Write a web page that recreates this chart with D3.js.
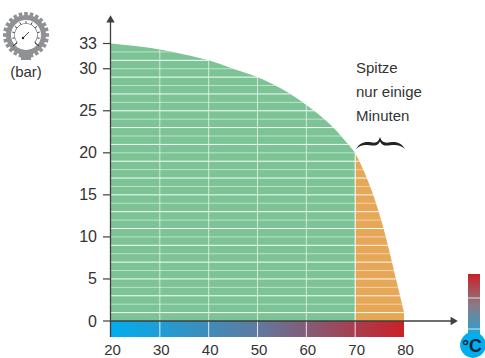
<!DOCTYPE html>
<html><head><meta charset="utf-8">
<script src="https://cdn.jsdelivr.net/npm/d3@7"></script>
<style>html,body{margin:0;padding:0;background:#fff}svg{display:block}text{font-family:"Liberation Sans",Arial,sans-serif;fill:#333}</style>
</head><body><div id="c"></div>
<script>
const tempTicks=[20,30,40,50,60,70,80];
const pressureTicks=[0,5,10,15,20,25,30,33];
const continuousTemp=[20,25,30,35,40,45,50,55,60,65,70];
const continuousPressure=[33,32.7,32.3,31.7,31,30,29,27.6,25.7,23.3,20];
const peakTemp=[70,71.5,73.5,75.5,78.4,80];
const peakPressure=[20,18.2,15.3,11.65,4.9,1];
const noteLines=["Spitze","nur einige","Minuten"];
const unitPressure="(bar)";
const unitTemp="°C";

const W=485,H=358;
const svg=d3.select("#c").append("svg").attr("width",W).attr("height",H);
const x=d3.scaleLinear().domain([20,80]).range([111,404]);
const y=d3.scaleLinear().domain([0,33]).range([321,43.5]);
const defs=svg.append("defs");
function grad(id,x2,y2,stops){const g=defs.append("linearGradient").attr("id",id).attr("x1",0).attr("y1",0).attr("x2",x2).attr("y2",y2);
 stops.forEach(s=>g.append("stop").attr("offset",s[0]).attr("stop-color",s[1]));}
grad("strip",1,0,[[0,"#00aeef"],[0.5,"#5f7a9f"],[1,"#cb2027"]]);
grad("therm",0,1,[[0,"#cb2027"],[0.5,"#8a7a85"],[1,"#1fa5d8"]]);

const area=d3.area().x(d=>x(d[0])).y0(y(0)).y1(d=>y(d[1])).curve(d3.curveMonotoneX);
const contData=continuousTemp.map((t,i)=>[t,continuousPressure[i]]);
const peakData=peakTemp.map((t,i)=>[t,peakPressure[i]]);
svg.append("path").attr("d",area(contData)).attr("fill","#7cc496");
svg.append("path").attr("d",area(peakData)).attr("fill","#e6a757");
defs.append("clipPath").attr("id","clipAll").selectAll("path").data([contData,peakData]).join("path").attr("d",area);

const grid=svg.append("g").attr("clip-path","url(#clipAll)");
grid.selectAll("line.h").data(d3.range(1,33)).join("line").attr("class","h")
 .attr("x1",x(20)).attr("x2",x(80)).attr("y1",d=>y(d)).attr("y2",d=>y(d))
 .attr("stroke","#fff").attr("stroke-width",1).attr("stroke-opacity",d=>d%2?0.95:0.5);
grid.selectAll("line.v").data(tempTicks.slice(1,-1)).join("line").attr("class","v")
 .attr("x1",d=>x(d)).attr("x2",d=>x(d)).attr("y1",y(33)).attr("y2",y(0))
 .attr("stroke","#fff").attr("stroke-width",1).attr("stroke-opacity",d=>d==70?1:0.65);

// temperature strip
svg.append("rect").attr("x",x(20)).attr("y",y(0)).attr("width",x(80)-x(20)).attr("height",16).attr("fill","url(#strip)");
svg.selectAll("line.s").data(tempTicks.slice(1,-1)).join("line").attr("class","s")
 .attr("x1",d=>x(d)).attr("x2",d=>x(d)).attr("y1",y(0)).attr("y2",y(0)+16).attr("stroke","#fff").attr("stroke-opacity",.85);

// axes
const ac="#3f3f41";
svg.append("line").attr("x1",x(20)-.5).attr("x2",x(20)-.5).attr("y1",337).attr("y2",20).attr("stroke",ac).attr("stroke-width",1.3);
svg.append("line").attr("x1",x(20)).attr("x2",452).attr("y1",y(0)).attr("y2",y(0)).attr("stroke",ac).attr("stroke-width",1.3);
const tri=d3.symbol().type(d3.symbolTriangle).size(30);
svg.append("path").attr("d",tri).attr("transform",`translate(${x(20)-.5},20)`).attr("fill",ac);
svg.append("path").attr("d",tri).attr("transform",`translate(453,${y(0)}) rotate(90)`).attr("fill",ac);
svg.selectAll("line.t").data(pressureTicks).join("line").attr("class","t")
 .attr("x1",103).attr("x2",x(20)).attr("y1",d=>y(d)).attr("y2",d=>y(d)).attr("stroke",ac).attr("stroke-width",1.2);
svg.selectAll("text.yl").data(pressureTicks).join("text").attr("class","yl")
 .attr("x",97).attr("y",d=>y(d)+5.5).attr("text-anchor","end").attr("font-size",16).text(d=>d);
svg.selectAll("text.xl").data(tempTicks).join("text").attr("class","xl")
 .attr("x",d=>x(d)+1.5).attr("y",354.6).attr("text-anchor","middle").attr("font-size",15).text(d=>d);

// note + brace
svg.selectAll("text.n").data(noteLines).join("text").attr("class","n")
 .attr("x",356).attr("y",(d,i)=>72.5+i*24).attr("font-size",15).text(d=>d);
svg.append("path").attr("fill","#222")
 .attr("d","M356,149C359,143 365,141 371,142.3C376,143.3 378,142.5 380,137C382,142.5 385,143.3 390,142.3C396,141 402,143 405,149C401,145 396,144.3 390,145.3C385,146.1 382,145.5 380,141.5C378,145.5 375,146.1 370,145.3C364,144.3 360,145 356,149Z");

// thermometer
const th=svg.append("g");
th.append("rect").attr("x",468).attr("y",274).attr("width",12).attr("height",62).attr("fill","url(#therm)");
th.append("circle").attr("cx",473).attr("cy",345).attr("r",12.9).attr("fill","#00aeef");
th.selectAll("line").data([298,329]).join("line").attr("x1",468).attr("x2",480).attr("y1",d=>d).attr("y2",d=>d)
 .attr("stroke","#fff").attr("stroke-opacity",.65).attr("stroke-width",1.2);
th.append("text").attr("x",472).attr("y",352).attr("text-anchor","middle").attr("font-size",18).attr("font-weight","bold").style("fill","#1d2330").text(unitTemp);

// gauge icon
const g=svg.append("g").attr("transform","translate(26,35)");
const gc="#8f9194";
g.append("rect").attr("x",-5).attr("y",17).attr("width",10).attr("height",8).attr("fill",gc);
g.selectAll("rect.tooth").data(d3.range(0,360,15)).join("rect").attr("class","tooth")
 .attr("x",-1.8).attr("y",-23).attr("width",3.6).attr("height",5).attr("fill",gc).attr("transform",d=>`rotate(${d})`);
g.append("circle").attr("r",20).attr("fill",gc);
g.append("circle").attr("r",15).attr("fill","#fff");
g.selectAll("line.m").data(d3.range(-130,131,26)).join("line").attr("class","m")
 .attr("y1",-14).attr("y2",-11.5).attr("stroke","#222").attr("stroke-width",.8).attr("transform",d=>`rotate(${d})`);
g.append("path").attr("d",d3.arc().innerRadius(11.2).outerRadius(11.7).startAngle(-2.3).endAngle(2.3)()).attr("fill","#555");
g.append("line").attr("x1",-3.5).attr("y1",3.5).attr("x2",3).attr("y2",-3).attr("stroke","#222").attr("stroke-width",.8);
g.append("line").attr("x1",-9).attr("y1",8).attr("x2",-13).attr("y2",11).attr("stroke","#222").attr("stroke-width",.9);
g.append("line").attr("x1",9).attr("y1",8).attr("x2",13).attr("y2",11).attr("stroke","#222").attr("stroke-width",.9);
g.append("circle").attr("r",1.2).attr("cx",-3).attr("cy",3).attr("fill","#222");
svg.append("text").attr("x",26).attr("y",77).attr("text-anchor","middle").attr("font-size",15).text(unitPressure);
</script></body></html>
